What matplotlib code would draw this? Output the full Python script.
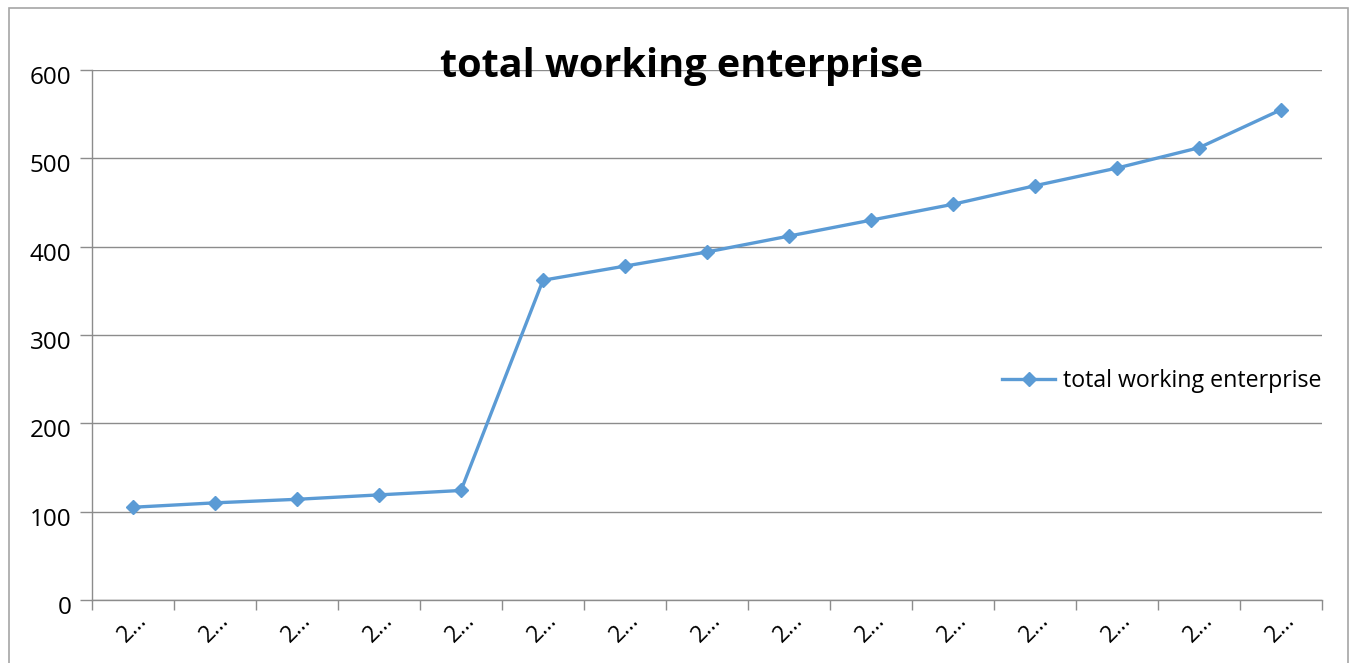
import matplotlib
matplotlib.use("Agg")
import matplotlib.pyplot as plt
from matplotlib.patches import Rectangle
from matplotlib.transforms import ScaledTranslation

plt.rcParams['font.family'] = ['Open Sans', 'DejaVu Sans']

categories = ["2…"] * 15
values = [105, 110, 114, 119, 124, 362, 378, 394, 412, 430, 448, 469, 489, 512, 555]
series_name = "total working enterprise"
title = "total working enterprise"
yticks = [0, 100, 200, 300, 400, 500, 600]

W, H = 1356, 663
fig = plt.figure(figsize=(W / 100, H / 100), dpi=100)
fig.patch.set_facecolor("white")
fig.patches.append(Rectangle((9 / W, -0.1), (1348 - 9) / W, 1.1 - 8 / H,
                             transform=fig.transFigure, fill=False,
                             edgecolor="#a6a6a6", linewidth=1.2))

ax = fig.add_axes([92 / W, 1 - 600 / H, (1322 - 92) / W, (600 - 70) / H])
x = list(range(len(values)))
color = "#5B9BD5"
ax.plot(x, values, color=color, linewidth=2.4, marker="D", markersize=7,
        label=series_name, zorder=3)

ax.set_xlim(-0.5, len(values) - 0.5)
ax.set_ylim(0, 600)
ax.set_yticks(yticks)
ax.set_yticklabels([str(v) for v in yticks], fontsize=17.5)
ax.grid(axis="y", color="#8c8c8c", linewidth=1.0)
ax.set_axisbelow(True)

ax.set_xticks([i - 0.5 for i in range(len(values) + 1)])
ax.set_xticklabels([])
ax.set_xticks(x, minor=True)
ax.set_xticklabels(categories, minor=True, rotation=45, ha="center", fontsize=16.5)
ax.tick_params(axis="x", which="major", length=7, color="#8c8c8c", width=1)
ax.tick_params(axis="x", which="minor", length=0, pad=6)
ax.tick_params(axis="y", length=9, color="#8c8c8c", width=1, pad=6)

offset = ScaledTranslation(0, -5 / 100, fig.dpi_scale_trans)
for lab in ax.get_yticklabels():
    lab.set_transform(lab.get_transform() + offset)

for s in ["top", "right"]:
    ax.spines[s].set_visible(False)
for s in ["left", "bottom"]:
    ax.spines[s].set_color("#8c8c8c")
    ax.spines[s].set_linewidth(1)

fig.text(682 / W, 1 - 67 / H, title, ha="center", va="center",
         fontsize=28.5, fontweight="bold")

ax.legend(loc="center left", bbox_to_anchor=(1002 / W, 1 - 381 / H),
          bbox_transform=fig.transFigure, frameon=False, fontsize=16.7,
          handlelength=2.3, handletextpad=0.35, borderpad=0, borderaxespad=0)

fig.savefig("out.png", dpi=100)
